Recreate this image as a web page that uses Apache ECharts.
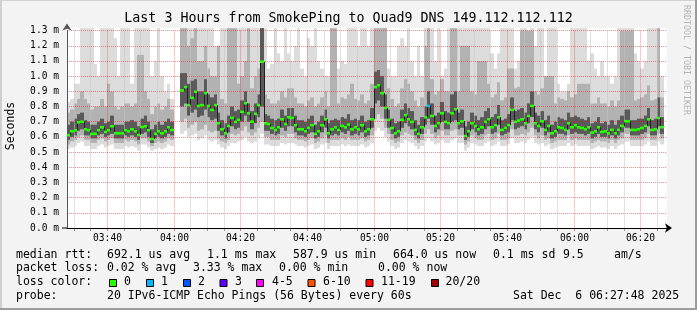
<!DOCTYPE html>
<html><head><meta charset="utf-8">
<script src="https://cdn.jsdelivr.net/npm/echarts@6/dist/echarts.min.js"></script>
<style>html,body{margin:0;padding:0;background:#f3f3f3}#c{width:697px;height:310px}</style>
</head><body><div id="c"></div>
<script>
// ---------------- data (one value per minute, starting 03:28) ----------------
const startTime = '03:28';
const tickLabels = ['03:40','04:00','04:20','04:40','05:00','05:20','05:40','06:00','06:20'];
const median = [
0.611,0.637,0.644,0.696,0.700,0.650,0.644,0.620,0.620,0.644,
0.663,0.633,0.644,0.670,0.624,0.624,0.624,0.644,0.637,0.650,
0.637,0.613,0.665,0.670,0.644,0.586,0.620,0.637,0.624,0.637,
0.663,0.645,null,null,0.906,0.928,0.809,0.857,0.897,0.804,
0.809,0.888,0.804,0.778,0.809,0.690,0.650,0.624,0.672,0.725,
0.699,0.712,0.765,0.822,0.756,0.700,0.752,0.809,1.095,0.690,
0.685,0.659,0.646,0.663,0.716,0.685,0.729,0.725,0.677,0.650,
0.650,0.637,0.659,0.677,0.620,0.637,0.677,0.716,0.624,0.650,
0.663,0.646,0.672,0.663,0.681,0.650,0.663,0.650,0.677,0.637,
0.650,0.716,0.928,0.940,0.888,0.791,0.712,0.659,0.624,0.637,
0.712,0.743,0.716,0.699,0.646,0.620,0.663,0.729,0.804,0.738,
0.672,0.690,0.756,0.699,0.690,0.756,0.782,0.690,0.703,0.606,
0.637,0.690,0.672,0.650,0.663,0.699,0.716,0.663,0.677,0.729,
0.646,0.659,0.677,0.778,0.699,0.707,0.716,0.690,0.738,0.804,
0.690,0.672,0.703,0.646,0.672,0.624,0.637,0.663,0.659,0.646,
0.690,0.663,0.677,0.663,0.659,0.650,0.663,0.628,0.637,0.663,
0.633,0.637,0.624,0.646,0.624,0.646,0.672,0.703,0.703,0.646,
0.646,0.650,0.659,0.672,0.716,0.646,0.650,0.725,0.664];
const lossCount = [
0,0,0,0,0,0,0,0,0,0, 0,0,0,0,0,0,0,0,0,0, 0,0,0,0,0,0,0,0,0,0,
0,0,null,null,0,0,0,0,0,0, 0,0,0,0,0,0,0,0,0,0, 0,0,0,0,0,0,0,0,0,0,
0,0,0,0,0,0,0,0,0,0, 0,0,0,0,0,0,0,0,0,0, 0,0,0,0,0,0,0,0,0,0,
0,0,0,0,0,0,0,0,0,0, 0,0,0,0,0,0,0,0,1,0, 0,0,0,0,0,0,0,0,0,0,
0,0,0,0,0,0,0,0,0,0, 0,0,0,0,0,0,0,0,0,0, 0,0,0,0,0,0,0,0,0,0,
0,0,0,0,0,0,0,0,0,0, 0,0,0,0,0,0,0,0,0,0, 0,0,0,0,0,0,0,0,0];
// smoke: lightest band (fastest..slowest ping)
const pingMin = [
0.52,0.53,0.54,0.56,0.57,0.54,0.54,0.52,0.52,0.54,
0.55,0.53,0.54,0.55,0.52,0.52,0.52,0.54,0.53,0.54,
0.53,0.51,0.55,0.55,0.53,0.51,0.52,0.53,0.52,0.53,
0.55,0.54,null,null,0.62,0.64,0.60,0.61,0.62,0.58,
0.59,0.61,0.58,0.57,0.58,0.55,0.53,0.52,0.54,0.56,
0.56,0.57,0.58,0.60,0.57,0.56,0.57,0.59,0.62,0.55,
0.55,0.54,0.54,0.54,0.56,0.55,0.56,0.56,0.55,0.54,
0.54,0.53,0.54,0.55,0.52,0.53,0.55,0.56,0.52,0.54,
0.54,0.54,0.55,0.54,0.55,0.54,0.54,0.54,0.55,0.53,
0.54,0.56,0.64,0.66,0.64,0.60,0.57,0.54,0.52,0.53,
0.56,0.58,0.57,0.56,0.54,0.52,0.54,0.57,0.59,0.57,
0.55,0.56,0.58,0.56,0.56,0.58,0.59,0.56,0.56,0.51,
0.53,0.56,0.55,0.54,0.54,0.56,0.57,0.54,0.55,0.57,
0.54,0.54,0.55,0.59,0.56,0.56,0.57,0.56,0.58,0.60,
0.56,0.55,0.56,0.54,0.55,0.52,0.53,0.54,0.54,0.54,
0.56,0.54,0.55,0.54,0.54,0.54,0.54,0.52,0.53,0.54,
0.53,0.53,0.52,0.54,0.52,0.54,0.55,0.57,0.57,0.54,
0.54,0.54,0.54,0.55,0.57,0.54,0.54,0.57,0.55];
const pingMax = [
0.83,0.85,0.95,0.95,1.32,1.32,1.32,1.32,1.08,1.00,
1.32,1.32,1.32,1.32,1.25,1.00,1.32,1.32,1.32,0.95,
1.32,1.32,1.32,1.32,1.32,1.00,1.10,1.32,1.00,0.90,
0.95,0.85,null,null,1.32,1.32,1.32,1.32,1.32,1.32,
1.32,1.32,1.32,1.32,1.20,1.20,1.32,1.32,1.32,1.32,
1.32,1.32,1.32,1.32,1.32,1.32,1.32,1.32,1.32,1.32,
1.05,1.08,1.32,1.15,1.10,1.32,1.15,1.10,1.20,1.32,
1.05,1.00,1.25,1.20,1.32,1.10,1.05,1.00,1.00,1.32,
1.10,1.05,1.10,1.08,1.32,1.32,1.32,1.20,1.32,1.32,
1.20,1.32,1.32,1.32,1.32,1.32,1.05,1.00,1.00,1.20,
1.25,1.20,1.32,1.10,1.00,1.20,1.00,1.32,1.32,1.32,
1.10,1.32,1.00,1.05,1.32,1.32,1.32,1.32,1.32,1.32,
1.32,1.32,1.32,1.32,1.32,1.32,1.32,1.15,1.05,1.15,
1.32,1.32,1.32,1.32,1.05,1.10,1.32,1.32,1.25,1.32,
1.20,1.32,1.32,1.00,1.32,1.32,1.32,0.95,0.90,0.90,
0.95,1.32,1.32,1.32,1.32,1.32,1.10,1.15,1.05,1.00,
1.10,1.00,1.00,0.95,1.00,1.32,1.32,1.32,1.32,1.32,
1.15,1.10,1.05,1.10,1.32,1.32,1.32,1.32,1.00];
// middle band
const midLow = [
0.55,0.57,0.58,0.60,0.61,0.58,0.58,0.56,0.56,0.58,
0.59,0.57,0.58,0.59,0.56,0.56,0.56,0.58,0.57,0.58,
0.57,0.55,0.59,0.59,0.57,0.54,0.56,0.57,0.56,0.57,
0.59,0.58,null,null,0.70,0.72,0.66,0.68,0.70,0.64,
0.65,0.68,0.64,0.63,0.64,0.59,0.57,0.56,0.58,0.62,
0.61,0.62,0.64,0.67,0.63,0.61,0.63,0.66,0.70,0.60,
0.60,0.58,0.58,0.58,0.61,0.60,0.62,0.62,0.59,0.58,
0.58,0.57,0.58,0.59,0.56,0.57,0.59,0.61,0.56,0.58,
0.58,0.58,0.59,0.58,0.60,0.58,0.58,0.58,0.59,0.57,
0.58,0.61,0.72,0.75,0.72,0.66,0.62,0.58,0.56,0.57,
0.61,0.63,0.62,0.61,0.58,0.56,0.58,0.62,0.65,0.62,
0.59,0.61,0.64,0.61,0.61,0.64,0.65,0.61,0.61,0.55,
0.57,0.61,0.59,0.58,0.58,0.61,0.62,0.58,0.59,0.62,
0.58,0.58,0.59,0.65,0.61,0.61,0.62,0.61,0.63,0.66,
0.61,0.59,0.61,0.58,0.59,0.56,0.57,0.58,0.58,0.58,
0.61,0.58,0.59,0.58,0.58,0.58,0.58,0.56,0.57,0.58,
0.57,0.57,0.56,0.58,0.56,0.58,0.59,0.62,0.62,0.58,
0.58,0.58,0.58,0.59,0.62,0.58,0.58,0.62,0.59];
const midHigh = [
0.76,0.78,0.82,0.85,0.90,0.85,0.82,0.78,0.80,0.80,
0.85,0.80,0.95,0.90,0.80,0.78,0.80,0.82,0.82,0.80,
0.82,1.14,1.14,0.90,0.85,0.75,0.80,0.82,0.78,0.80,
0.85,0.78,null,null,1.32,1.32,1.20,1.25,1.32,1.10,
1.10,1.20,1.05,1.00,1.00,1.20,0.85,0.82,1.32,1.32,
1.32,0.95,1.00,1.10,1.32,0.92,1.00,1.05,1.32,0.88,
0.85,0.82,0.82,0.84,0.90,0.86,0.92,0.92,0.86,0.82,
0.82,0.80,0.84,0.86,0.80,0.82,0.86,0.90,0.80,1.32,
1.32,0.82,0.86,0.85,0.88,0.95,0.85,0.84,0.88,0.82,
0.84,0.95,1.32,1.32,1.32,1.32,0.92,0.85,0.80,0.82,
0.92,0.98,0.95,0.90,0.84,0.80,0.86,1.20,1.32,0.98,
0.88,0.90,0.98,0.90,0.90,1.32,1.32,0.90,1.20,1.20,
1.20,0.90,0.88,1.10,1.10,1.10,0.95,0.86,0.88,0.96,
0.84,0.86,1.05,1.05,0.92,0.93,1.30,1.30,1.30,1.30,
0.90,0.88,0.92,1.00,1.00,1.00,0.82,0.86,0.85,0.84,
0.90,0.86,0.88,0.95,0.95,0.95,0.95,0.82,0.82,0.86,
0.82,0.82,0.80,0.84,0.80,0.84,1.30,1.30,1.30,1.30,
0.84,0.85,0.86,0.88,0.94,0.84,0.85,1.32,0.86];
// inner (darkest) band
const coreLow = [
0.58,0.60,0.61,0.64,0.65,0.61,0.61,0.59,0.59,0.61,
0.62,0.60,0.61,0.62,0.59,0.59,0.59,0.61,0.60,0.61,
0.60,0.58,0.62,0.63,0.60,0.56,0.59,0.60,0.59,0.60,
0.62,0.61,null,null,0.80,0.82,0.74,0.76,0.78,0.73,
0.74,0.78,0.73,0.71,0.72,0.64,0.61,0.59,0.63,0.67,
0.65,0.66,0.70,0.74,0.70,0.65,0.69,0.73,0.80,0.64,
0.64,0.62,0.61,0.62,0.66,0.64,0.67,0.67,0.63,0.61,
0.61,0.60,0.62,0.63,0.59,0.60,0.63,0.66,0.59,0.61,
0.62,0.61,0.63,0.62,0.64,0.61,0.62,0.61,0.63,0.60,
0.61,0.66,0.82,0.84,0.80,0.72,0.66,0.62,0.59,0.60,
0.66,0.69,0.67,0.65,0.61,0.59,0.62,0.68,0.72,0.68,
0.63,0.65,0.70,0.65,0.65,0.70,0.71,0.65,0.66,0.58,
0.60,0.65,0.63,0.61,0.62,0.65,0.67,0.62,0.63,0.68,
0.61,0.62,0.63,0.71,0.65,0.66,0.67,0.65,0.69,0.73,
0.65,0.63,0.66,0.61,0.63,0.59,0.60,0.62,0.62,0.61,
0.65,0.62,0.63,0.62,0.62,0.61,0.62,0.59,0.60,0.62,
0.60,0.60,0.59,0.61,0.59,0.61,0.63,0.66,0.66,0.61,
0.61,0.61,0.62,0.63,0.67,0.61,0.61,0.67,0.62];
const coreHigh = [
0.68,0.70,0.72,0.75,0.76,0.71,0.70,0.68,0.68,0.70,
0.72,0.69,0.70,0.74,0.68,0.68,0.68,0.70,0.70,0.71,
0.70,0.67,0.72,0.74,0.70,0.65,0.68,0.70,0.68,0.70,
0.72,0.70,null,null,1.02,1.02,0.95,0.97,0.98,0.90,
0.90,0.98,0.88,0.86,0.88,0.76,0.71,0.69,0.74,0.80,
0.77,0.78,0.84,0.90,0.82,0.77,0.82,0.88,1.32,0.75,
0.74,0.72,0.71,0.72,0.78,0.74,0.79,0.79,0.74,0.71,
0.71,0.70,0.72,0.74,0.68,0.70,0.74,0.78,0.69,0.71,
0.72,0.71,0.73,0.72,0.75,0.71,0.72,0.71,0.74,0.70,
0.71,0.79,1.03,1.04,1.00,0.88,0.78,0.72,0.69,0.70,
0.78,0.82,0.79,0.77,0.71,0.68,0.73,0.80,0.90,0.82,
0.74,0.76,0.83,0.77,0.76,0.88,0.90,0.76,0.78,0.67,
0.70,0.76,0.74,0.71,0.73,0.77,0.79,0.73,0.75,0.81,
0.71,0.72,0.75,0.86,0.77,0.78,0.79,0.76,0.82,0.90,
0.76,0.74,0.77,0.71,0.74,0.68,0.70,0.73,0.72,0.71,
0.76,0.73,0.74,0.73,0.72,0.71,0.73,0.69,0.70,0.73,
0.69,0.70,0.68,0.71,0.68,0.71,0.74,0.78,0.78,0.71,
0.71,0.72,0.72,0.74,0.79,0.71,0.72,0.86,0.73];
const lossLabels = ['0','1','2','3','4-5','6-10','11-19','20/20'];
const lossColors = ['#26ff00','#00b8ff','#0059ff','#5e00ff','#ff00ff','#ff5500','#ff0000','#a10000'];
const statLines = [
  [['median rtt:',16],['692.1 us avg',107],['1.1 ms max',207],['587.9 us min',293],['664.0 us now',393],['0.1 ms sd',493],['9.5',563],['am/s',614]],
  [['packet loss:',16],['0.02 % avg',107],['3.33 % max',193],['0.00 % min',279],['0.00 % now',378]],
  [['loss color:',16]],
  [['probe:',16],['20 IPv6-ICMP Echo Pings (56 Bytes) every 60s',107],['Sat Dec  6 06:27:48 2025',513]]
];
const legendX = [[109,124],[146,161],[183,198],[219.5,235],[256,272],[307.5,323],[365.5,381],[431,445.5]];

// ---------------- chart ----------------
const FONT = '"DejaVu Sans Mono", monospace';
const Y_CLAMP = 1.316;
const [sh, sm] = startTime.split(':').map(Number);
const startMin = sh * 60 + sm;
const minuteLabels = [];
for (let k = 0; k <= 180; k++) {
  const t = startMin + k;
  minuteLabels.push(String(Math.floor(t / 60)).padStart(2, '0') + ':' + String(t % 60).padStart(2, '0'));
}
const gridMarks = [];
for (let k = 0; k <= 180; k++) if ((startMin + k) % 5 === 0) gridMarks.push([k]);

function lossClass(n) {
  if (n <= 3) return n;
  if (n <= 5) return 4;
  if (n <= 10) return 5;
  if (n <= 19) return 6;
  return 7;
}

function band(name, lo, hi, color) {
  const data = [];
  for (let i = 0; i < median.length; i++) if (lo[i] != null && hi[i] != null) data.push([i, lo[i], hi[i]]);
  return {
    type: 'custom', name, data, z: 1, clip: false, silent: true,
    encode: { x: 0, y: [1, 2] },
    renderItem(params, api) {
      const i = api.value(0);
      const a = api.coord([i, Math.min(api.value(2), Y_CLAMP)]);
      const b = api.coord([i + 1, api.value(1)]);
      const x0 = Math.round(a[0]), x1 = Math.round(b[0]);
      return { type: 'rect', shape: { x: x0, y: a[1], width: x1 - x0, height: b[1] - a[1] }, style: { fill: color } };
    }
  };
}

const medData = [];
for (let i = 0; i < median.length; i++) if (median[i] != null) medData.push([i, median[i], lossCount[i]]);

const graphics = [
  { type: 'rect', z: -10, shape: { x: 67, y: 28, width: 600, height: 200 }, style: { fill: '#ffffff' }, silent: true },
  { type: 'rect', shape: { x: 0, y: 0, width: 697, height: 1 }, style: { fill: '#d2d2d2' }, silent: true },
  { type: 'rect', shape: { x: 0, y: 0, width: 2, height: 310 }, style: { fill: '#cfcfcf' }, silent: true },
  { type: 'rect', shape: { x: 695, y: 0, width: 2, height: 310 }, style: { fill: '#9c9c9c' }, silent: true },
  { type: 'rect', shape: { x: 0, y: 308, width: 697, height: 2 }, style: { fill: '#9c9c9c' }, silent: true },
  { type: 'rect', shape: { x: 62, y: 227.5, width: 5, height: 1 }, style: { fill: '#000' }, silent: true },
  { type: 'text', x: 686, y: 60, rotation: -Math.PI / 2, silent: true,
    style: { text: 'RRDTOOL / TOBI OETIKER', font: '8.3px ' + FONT, fill: '#b4b4b4', textAlign: 'center', textVerticalAlign: 'middle' } },
  { type: 'text', x: 11, y: 126, rotation: Math.PI / 2, silent: true,
    style: { text: 'Seconds', font: '11.5px ' + FONT, fill: '#000', textAlign: 'center', textVerticalAlign: 'middle' } }
];
const lineY = [254.7, 268.2, 282.4, 296];
statLines.forEach((segs, li) => segs.forEach(([t, x]) => graphics.push({
  type: 'text', x, y: lineY[li], silent: true,
  style: { text: t, font: '11.5px ' + FONT, fill: '#000', textAlign: 'left', textVerticalAlign: 'middle' }
})));
lossLabels.forEach((lab, k) => {
  graphics.push({ type: 'rect', silent: true, shape: { x: legendX[k][0] + 0.5, y: 279.5, width: 7, height: 7 },
    style: { fill: lossColors[k], stroke: '#000', lineWidth: 1 } });
  graphics.push({ type: 'text', x: legendX[k][1], y: lineY[2], silent: true,
    style: { text: lab, font: '11.5px ' + FONT, fill: '#000', textAlign: 'left', textVerticalAlign: 'middle' } });
});

const chart = echarts.init(document.getElementById('c'), null, { renderer: 'canvas', width: 697, height: 310 });
chart.setOption({
  animation: false,
  backgroundColor: '#f3f3f3',
  title: {
    text: 'Last 3 Hours from SmokePing to Quad9 DNS 149.112.112.112',
    left: 'center', top: 12, padding: 0,
    textStyle: { fontFamily: FONT, fontSize: 13.3, fontWeight: 'normal', color: '#000' }
  },
  grid: { left: 67, right: 30, top: 30.6, bottom: 82, show: false },
  xAxis: {
    type: 'value', min: 0, max: 180, z: 2,
    axisLine: { show: true, lineStyle: { color: '#000', width: 1 }, symbol: ['none', 'arrow'], symbolSize: [7, 7], symbolOffset: [0, 5] },
    axisTick: { show: false }, axisLabel: { show: false }, splitLine: { show: false }
  },
  yAxis: {
    type: 'value', min: 0, max: 1.3, interval: 0.1, z: 2,
    axisLine: { show: true, lineStyle: { color: '#555', width: 1 }, symbol: ['none', 'arrow'], symbolSize: [7, 7], symbolOffset: [0, 7] },
    axisTick: { show: false },
    axisLabel: { formatter: v => v.toFixed(1) + ' m', fontFamily: FONT, fontSize: 9.6, color: '#000', margin: 8 },
    splitLine: { show: true, lineStyle: { color: 'rgba(255,0,0,0.45)', type: [1, 1], width: 1 } }
  },
  graphic: graphics,
  series: [
    band('smoke-outer', pingMin, pingMax, '#dcdcdc'),
    band('smoke-mid', midLow, midHigh, '#b2b2b2'),
    band('smoke-core', coreLow, coreHigh, '#5a5a5a'),
    {
      // vertical grid, time ticks and time labels, placed through the x scale
      type: 'custom', name: 'time-grid', data: gridMarks, z: 2, clip: false, silent: true,
      encode: { x: 0 },
      renderItem(params, api) {
        const k = api.value(0);
        const lab = minuteLabels[k];
        const major = tickLabels.indexOf(lab) >= 0;
        const p0 = api.coord([k, 0]), p1 = api.coord([k, 1.3]);
        const x = Math.round(p0[0]) + 0.5;
        const children = [
          { type: 'line', shape: { x1: x, y1: p1[1], x2: x, y2: p0[1] },
            style: { stroke: major ? 'rgba(255,0,0,0.45)' : '#c4c4c4', lineWidth: 1, lineDash: [1, 1] } },
          { type: 'line', shape: { x1: x, y1: p0[1] + 1, x2: x, y2: p0[1] + 3 }, style: { stroke: major ? '#d08080' : '#999', lineWidth: 1 } }
        ];
        if (major) children.push({ type: 'text', x: x, y: p0[1] + 10,
          style: { text: lab, font: '9.6px ' + FONT, fill: '#000', textAlign: 'center', textVerticalAlign: 'middle' } });
        return { type: 'group', children };
      }
    },
    {
      type: 'custom', name: 'median', data: medData, z: 3, clip: false, silent: true,
      encode: { x: 0, y: 1 },
      renderItem(params, api) {
        const i = api.value(0), v = api.value(1), loss = api.value(2);
        const a = api.coord([i, v]), b = api.coord([i + 1, v]);
        const x0 = Math.round(a[0]), x1 = Math.round(b[0]);
        const children = [];
        const prev = i > 0 ? median[i - 1] : null;
        if (prev != null) {
          const py = api.coord([i, prev])[1];
          children.push({ type: 'line', shape: { x1: x0 + 0.5, y1: py, x2: x0 + 0.5, y2: a[1] }, style: { stroke: '#202020', lineWidth: 1 } });
        }
        children.push({ type: 'rect', shape: { x: x0, y: a[1] - 1.3, width: x1 - x0, height: 2.6 }, style: { fill: lossColors[lossClass(loss)] } });
        return { type: 'group', children };
      }
    }
  ]
});
</script>
</body></html>
